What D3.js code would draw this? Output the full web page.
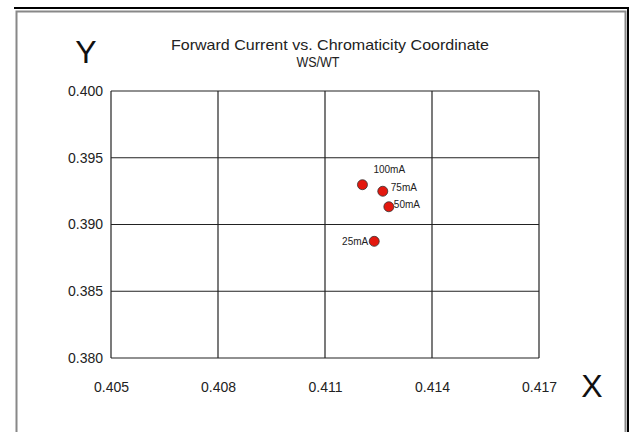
<!DOCTYPE html>
<html lang="en">
<head>
  <meta charset="UTF-8">
  <title>Forward Current vs. Chromaticity Coordinate</title>
  <script src="https://d3js.org/d3.v7.min.js"></script>
  <style>
    html, body {
      margin: 0;
      padding: 0;
      overflow: hidden;
      background: #fff;
      font-family: "Liberation Sans", Arial, sans-serif;
    }
    svg { display: block; }
    .tick text { font-size: 14px; fill: #222; }
    .pt-label { font-size: 10px; fill: #222; }
  </style>
</head>
<body>
  <svg width="630" height="432"></svg>

  <script>
    // data
    const currents = ["100mA", "75mA", "50mA", "25mA"];
    const cieX = [0.41205, 0.41262, 0.41279, 0.41238];
    const cieY = [0.39298, 0.39249, 0.39133, 0.38874];
    const xTicks = [0.405, 0.408, 0.411, 0.414, 0.417];
    const yTicks = [0.380, 0.385, 0.390, 0.395, 0.400];

    const svg = d3.select("svg");
    const width = 630, height = 432;
    const margin = {left: 111, right: 91, top: 91, bottom: 74};

    // frame
    svg.append("rect")
      .attr("x", 16.5).attr("y", 11.5)
      .attr("width", 609).attr("height", 430)
      .attr("fill", "none").attr("stroke", "#888").attr("stroke-width", 2);
    svg.append("path")
      .attr("d", "M14,8H628V432")
      .attr("fill", "none").attr("stroke", "#000").attr("stroke-width", 2);

    const x = d3.scaleLinear()
      .domain([0.405, 0.417])
      .range([margin.left, width - margin.right]);
    const y = d3.scaleLinear()
      .domain([0.380, 0.400])
      .range([height - margin.bottom, margin.top]);

    // grid
    const grid = svg.append("g");
    grid.selectAll("line.v")
      .data(xTicks)
      .enter().append("line")
      .attr("x1", d => x(d)).attr("x2", d => x(d))
      .attr("y1", y(0.380)).attr("y2", y(0.400))
      .attr("stroke", "#222").attr("stroke-width", 1.2);
    grid.selectAll("line.h")
      .data(yTicks)
      .enter().append("line")
      .attr("x1", x(0.405)).attr("x2", x(0.417))
      .attr("y1", d => y(d)).attr("y2", d => y(d))
      .attr("stroke", "#222").attr("stroke-width", 1.2);

    // axes (labels only)
    const xAxis = svg.append("g")
      .attr("transform", `translate(0,${y(0.380)})`)
      .call(d3.axisBottom(x).tickValues(xTicks).tickFormat(d3.format(".3f")).tickSize(0).tickPadding(24));
    const yAxis = svg.append("g")
      .attr("transform", `translate(${x(0.405)},0)`)
      .call(d3.axisLeft(y).tickValues(yTicks).tickFormat(d3.format(".3f")).tickSize(0).tickPadding(8));
    [xAxis, yAxis].forEach(a => {
      a.select(".domain").remove();
      a.selectAll("text").attr("font-family", "Liberation Sans, Arial, sans-serif");
    });

    // titles
    svg.append("text")
      .attr("x", 330).attr("y", 50)
      .attr("text-anchor", "middle")
      .attr("font-size", 14.5).attr("fill", "#222")
      .attr("textLength", 318).attr("lengthAdjust", "spacingAndGlyphs")
      .text("Forward Current vs. Chromaticity Coordinate");
    svg.append("text")
      .attr("x", 318).attr("y", 67)
      .attr("text-anchor", "middle")
      .attr("font-size", 14).attr("fill", "#222")
      .attr("textLength", 43).attr("lengthAdjust", "spacingAndGlyphs")
      .text("WS/WT");
    svg.append("text")
      .attr("x", 86).attr("y", 63)
      .attr("text-anchor", "middle")
      .attr("font-size", 32).attr("fill", "#111")
      .text("Y");
    svg.append("text")
      .attr("x", 592).attr("y", 397)
      .attr("text-anchor", "middle")
      .attr("font-size", 32).attr("fill", "#111")
      .text("X");

    // points
    const pts = currents.map((c, i) => ({name: c, x: cieX[i], y: cieY[i]}));
    svg.append("g").selectAll("circle")
      .data(pts)
      .enter().append("circle")
      .attr("cx", d => x(d.x))
      .attr("cy", d => y(d.y))
      .attr("r", 5)
      .attr("fill", "#e3180e")
      .attr("stroke", "#333")
      .attr("stroke-width", 0.8);

    // labels next to points
    const labelOffset = {
      "100mA": [11, -12, "start"],
      "75mA": [8, 0, "start"],
      "50mA": [5, 1.5, "start"],
      "25mA": [-6, 4, "end"]
    };
    svg.append("g").selectAll("text")
      .data(pts)
      .enter().append("text")
      .attr("class", "pt-label")
      .attr("x", d => x(d.x) + labelOffset[d.name][0])
      .attr("y", d => y(d.y) + labelOffset[d.name][1])
      .attr("text-anchor", d => labelOffset[d.name][2])
      .text(d => d.name);
  </script>
</body>
</html>
